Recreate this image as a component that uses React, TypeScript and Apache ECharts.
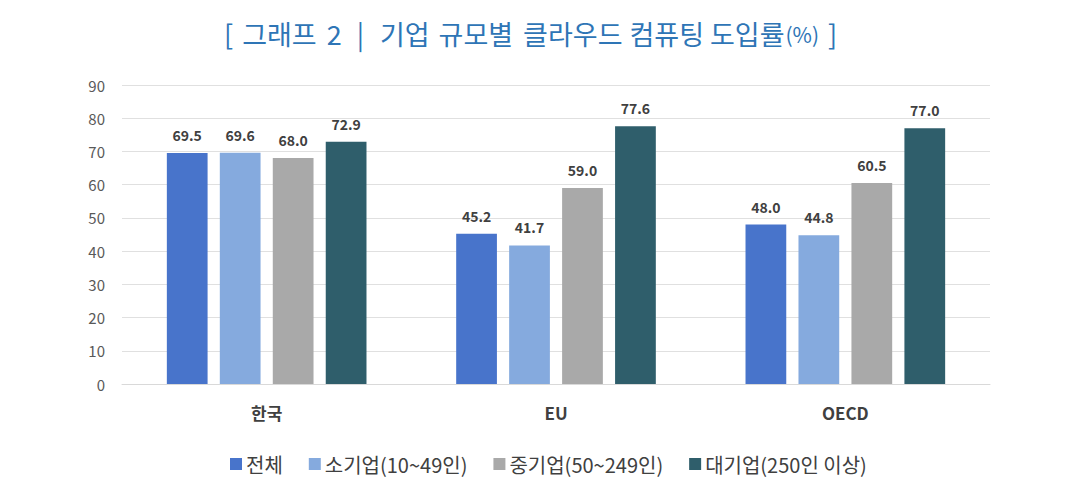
import React, { useEffect, useRef } from "react";
import * as echarts from "echarts";

const categories = ["한국", "EU", "OECD"];
const seriesNames = ["전체", "소기업(10~49인)", "중기업(50~249인)", "대기업(250인 이상)"];
const total = [69.5, 45.2, 48.0];
const small = [69.6, 41.7, 44.8];
const medium = [68.0, 59.0, 60.5];
const large = [72.9, 77.6, 77.0];
const colors = ["#4874CB", "#85AADE", "#A9A9A9", "#2F5E6B"];
const titleWords = ["[", "그래프", "2", "|", "기업", "규모별", "클라우드", "컴퓨팅", "도입률", "(%)", "]"];

export default function App() {
  const ref = useRef<HTMLDivElement>(null);
  useEffect(() => {
    document.body.style.margin = "0";
    const chart = echarts.init(ref.current!, null, { renderer: "svg" });
    const font = "'Noto Sans CJK KR', 'Noto Sans', sans-serif";
    const data = [total, small, medium, large];
    const pads = [0, 9, 10, 15, 16, 9, 10, 7, 6, 1, 9];
    const rich: any = {};
    const parts: string[] = [];
    titleWords.forEach((w, i) => {
      const key = "w" + i;
      rich[key] = {
        fontSize: w === "(%)" ? 21 : 27,
        fontWeight: "normal",
        color: "#2E75B6",
        fontFamily: font,
        padding: [0, 0, 0, pads[i]],
        verticalAlign: "middle",
      };
      parts.push("{" + key + "|" + w + "}");
    });
    chart.setOption({
      animation: false,
      textStyle: { fontFamily: font },
      title: {
        text: parts.join(""),
        left: 224,
        top: 20,
        padding: 0,
        textStyle: { rich },
      },
      legend: {
        top: 449,
        left: 225,
        itemWidth: 12,
        itemHeight: 12,
        itemGap: 26,
        icon: "rect",
        textStyle: { fontSize: 20, color: "#404040", fontFamily: font, padding: [0, 0, 0, -1] },
        data: seriesNames,
      },
      grid: { left: 122, right: 78, top: 85, bottom: 114 },
      xAxis: {
        type: "category",
        data: categories,
        axisLine: { lineStyle: { color: "#D9D9D9" } },
        axisTick: { show: false },
        axisLabel: { fontSize: 17, fontWeight: "bold", color: "#404040", margin: 20 },
      },
      yAxis: {
        type: "value",
        min: 0,
        max: 90,
        interval: 10,
        axisLine: { show: false },
        axisTick: { show: false },
        splitLine: { lineStyle: { color: "#E0E0E0" } },
        axisLabel: { fontSize: 15, color: "#595959", margin: 17 },
      },
      series: seriesNames.map((name, i) => ({
        name,
        type: "bar",
        data: data[i],
        itemStyle: { color: colors[i] },
        barGap: "30%",
        barCategoryGap: "31%",
        label: {
          show: true,
          position: "top",
          distance: 11,
          fontSize: 14,
          fontWeight: "bold",
          color: "#404040",
          formatter: (p: any) => p.value.toFixed(1),
        },
      })),
    });
    return () => chart.dispose();
  }, []);
  return <div ref={ref} style={{ width: 1068, height: 498 }} />;
}
